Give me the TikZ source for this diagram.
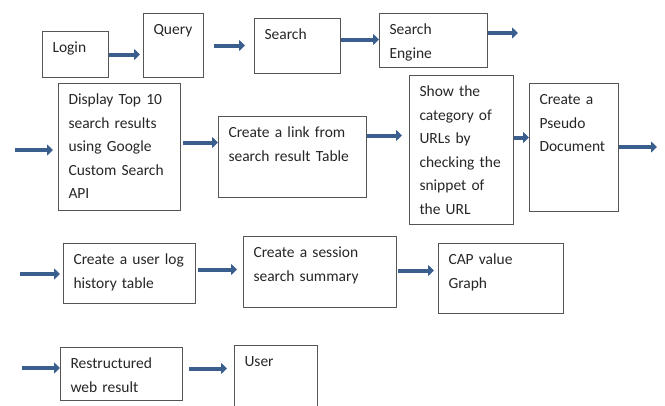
\documentclass[tikz,border=0pt]{standalone}
\usepackage{xcolor}
\usepackage{fontspec}
\setmainfont{Carlito}
\usepackage{tikz}
\usetikzlibrary{arrows.meta}

\definecolor{flowblue}{RGB}{58,94,142}
\definecolor{boxgray}{RGB}{85,85,85}

\begin{document}
\begin{tikzpicture}[x=1pt, y=-1pt,
    box/.style={draw=boxgray, line width=1pt, rectangle, anchor=north west,
        align=left, inner xsep=10pt, inner ysep=0pt, text height=21pt,
        text=black!85, font=\fontsize{15.5}{23.5}\selectfont},
    flow/.style={draw=flowblue, line width=4pt, -{Triangle[length=6pt,width=11pt]}}]
    \clip (0,0) rectangle (665,405);

    % first row
    \node (login) [box, text width=46pt, text depth=25pt] at (42,31) {Login};
    \node (query) [box, text width=40pt, text depth=43pt] at (143,13) {Query};
    \node (search) [box, text width=66pt, text depth=34pt] at (254,18) {Search};
    \node (engine) [box, text width=88pt, text depth=33pt] at (379,13) {Search\\Engine};
    \coordinate (out1) at (518,33);

    % second row
    \coordinate (in2) at (15,150);
    \node (display) [box, text width=102pt, text depth=106pt] at (58,83)
        {Display Top 10\\search results\\using Google\\Custom Search\\API};
    \node (link) [box, text width=128pt, text depth=60pt] at (218,116)
        {Create a link from\\search result Table};
    \node (show) [box, text width=84pt, text depth=128pt] at (409,75)
        {Show the\\category of\\URLs by\\checking the\\snippet of\\the URL};
    \node (pseudo) [box, text width=69pt, text depth=107pt] at (529,83)
        {Create a\\Pseudo\\Document};
    \coordinate (out2) at (657,147);

    % third row
    \coordinate (in3) at (20,274);
    \node (userlog) [box, text width=112pt, text depth=39pt] at (63,243)
        {Create a user log\\history table};
    \node (session) [box, text width=133pt, text depth=50pt] at (243,236)
        {Create a session\\search summary};
    \node (cap) [box, text width=105pt, text depth=49pt] at (438,243)
        {CAP value\\Graph};

    % fourth row
    \coordinate (in4) at (22,368);
    \node (restr) [box, text width=102pt, text depth=32pt] at (60,347)
        {Restructured\\web result};
    \node (user) [box, text width=63pt, text depth=49pt] at (234,345) {User};

    \draw[flow, shorten >=3pt] (login.east) -- (login.east -| query.west);
    \draw[flow, shorten <=10pt, shorten >=9pt] (query.east) -- (query.east -| search.west);
    \draw[flow] ([yshift=6.5pt]search.east) -- ([yshift=6.5pt]search.east -| engine.west);
    \draw[flow] (engine.east |- out1) -- (out1);

    \draw[flow, shorten >=5pt] (in2) -- (in2 -| display.west);
    \draw[flow, shorten <=2pt] ([yshift=4.5pt]display.east) -- ([yshift=4.5pt]display.east -| link.west);
    \draw[flow, shorten >=7pt] ([yshift=21.5pt]link.east) -- ([yshift=21.5pt]link.east -| show.west);
    \draw[flow] ([yshift=12.5pt]show.east) -- ([yshift=12.5pt]show.east -| pseudo.west);
    \draw[flow] (pseudo.east |- out2) -- (out2);

    \draw[flow, shorten >=3pt] (in3) -- (in3 -| userlog.west);
    \draw[flow, shorten <=2pt, shorten >=6pt] ([yshift=4pt]userlog.east) -- ([yshift=4pt]userlog.east -| session.west);
    \draw[flow, shorten <=1pt, shorten >=4pt] ([yshift=1.5pt]session.east) -- ([yshift=1.5pt]session.east -| cap.west);

    \draw[flow] (in4) -- (in4 -| restr.west);
    \draw[flow, shorten <=6pt, shorten >=7pt] ([yshift=5.5pt]restr.east) -- ([yshift=5.5pt]restr.east -| user.west);
\end{tikzpicture}
\end{document}
